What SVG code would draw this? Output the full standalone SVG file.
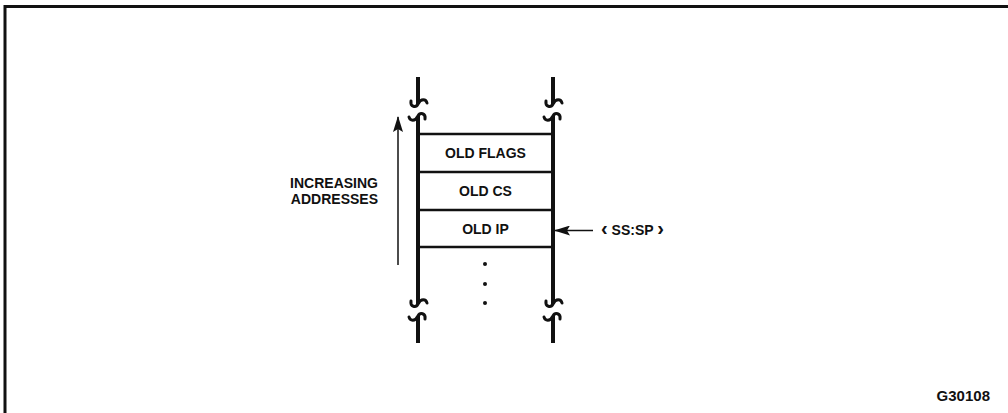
<svg xmlns="http://www.w3.org/2000/svg" width="1008" height="413" viewBox="0 0 1008 413">
<style>
.t{font-family:"Liberation Sans",Arial,sans-serif;font-weight:bold;font-size:14px;fill:#111}
.rail{stroke:#111;stroke-width:4;fill:none}
.hl{stroke:#111;stroke-width:2.5;fill:none}
.brk{stroke:#111;stroke-width:3;fill:none;stroke-linecap:round}
.ar{stroke:#111;stroke-width:1.5;fill:none}
.bk{font-size:20px}
</style>
<defs>
<g id="brk">
<path class="brk" d="M-7,-9 C-8,-3 -2,-2 0,-6 C3,-12 8,-11 9,-7"/>
<path class="brk" d="M7,9 C8,3 2,2 0,6 C-3,12 -8,11 -9,7"/>
</g>
<marker id="ah" markerWidth="16" markerHeight="10" refX="15" refY="5" orient="auto" markerUnits="userSpaceOnUse">
<path d="M0,0 L16,5 L0,10 L3,5 Z" fill="#111"/>
</marker>
</defs>
<rect width="1008" height="413" fill="#fff"/>
<g id="frame">
<path d="M5,413 V6.5 H1008" stroke="#111" stroke-width="3" fill="none"/>
</g>
<g id="stack">
<g id="rails">
<path class="rail" d="M418,77 V104 M418,116 V304 M418,316 V343"/>
<path class="rail" d="M553,77 V104 M553,116 V304 M553,316 V343"/>
<use href="#brk" x="418" y="110"/>
<use href="#brk" x="553" y="110"/>
<use href="#brk" x="418" y="310"/>
<use href="#brk" x="553" y="310"/>
</g>
<g id="row-flags">
<line class="hl" x1="418" y1="134" x2="553" y2="134"/>
<text class="t" x="485.5" y="158" text-anchor="middle">OLD FLAGS</text>
</g>
<g id="row-cs">
<line class="hl" x1="418" y1="172" x2="553" y2="172"/>
<text class="t" x="485.5" y="196" text-anchor="middle">OLD CS</text>
</g>
<g id="row-ip">
<line class="hl" x1="418" y1="210" x2="553" y2="210"/>
<text class="t" x="485.5" y="234" text-anchor="middle">OLD IP</text>
<line class="hl" x1="418" y1="247" x2="553" y2="247"/>
</g>
<g id="dots" fill="#111">
<circle cx="485" cy="264" r="2"/>
<circle cx="485" cy="284" r="2"/>
<circle cx="485" cy="303" r="2"/>
</g>
</g>
<g id="label-addr">
<text class="t" x="378" y="188" text-anchor="end">INCREASING</text>
<text class="t" x="378" y="204" text-anchor="end">ADDRESSES</text>
</g>
<g id="label-sssp">
<text class="t" x="601" y="235"><tspan class="bk">‹</tspan> SS:SP <tspan class="bk">›</tspan></text>
</g>
<g id="connectors">
<line class="ar" x1="398" y1="265" x2="398" y2="117" marker-end="url(#ah)"/>
<line class="ar" x1="593" y1="230.5" x2="555" y2="230.5" marker-end="url(#ah)"/>
</g>
<text class="t" x="990" y="401" text-anchor="end" style="font-size:15px">G30108</text>
</svg>
